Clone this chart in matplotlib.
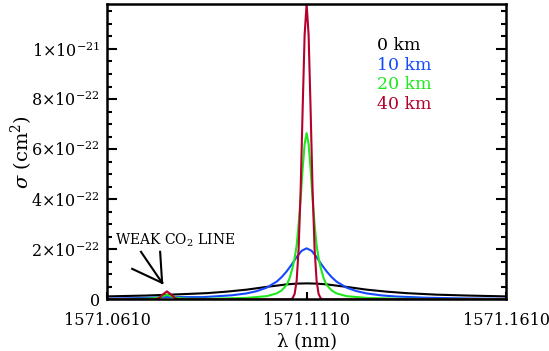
import matplotlib.pyplot as plt

plt.rcParams['font.family'] = 'DejaVu Serif'
plt.rcParams['mathtext.fontset'] = 'dejavuserif'

# cross sections, in units of 1e-22 cm^2
lam_0km = [1571.0610, 1571.0710, 1571.0785, 1571.0860, 1571.0910, 1571.0960, 1571.1010,
           1571.1060, 1571.1085, 1571.1110, 1571.1135, 1571.1160, 1571.1210, 1571.1260,
           1571.1310, 1571.1360, 1571.1435, 1571.1510, 1571.1610]
sig_0km = [0.12, 0.155, 0.20, 0.25, 0.31, 0.39, 0.50,
           0.60, 0.63, 0.64, 0.63, 0.60, 0.50, 0.39,
           0.31, 0.25, 0.19, 0.155, 0.12]

lam_10km = [1571.0610, 1571.0680, 1571.0720, 1571.0760, 1571.0800, 1571.0850, 1571.0885,
            1571.09225, 1571.0960, 1571.0985, 1571.1010, 1571.1035, 1571.10475, 1571.1060,
            1571.10725, 1571.1085, 1571.10975, 1571.1110, 1571.11225, 1571.1135, 1571.11475,
            1571.1160, 1571.11725, 1571.1185, 1571.1210, 1571.1235, 1571.1260, 1571.12975,
            1571.1335, 1571.1410, 1571.1510, 1571.1610]
sig_10km = [0.03, 0.05, 0.07, 0.10, 0.09, 0.09, 0.125,
            0.165, 0.24, 0.33, 0.47, 0.71, 0.89, 1.12,
            1.39, 1.69, 1.94, 2.04, 1.94, 1.69, 1.39,
            1.12, 0.89, 0.71, 0.47, 0.33, 0.24, 0.16,
            0.115, 0.066, 0.038, 0.024]

lam_20km = [1571.0610, 1571.0700, 1571.0725, 1571.0740, 1571.0750, 1571.0760, 1571.0770,
            1571.0780, 1571.0795, 1571.0820, 1571.0860, 1571.0960, 1571.1010, 1571.1035,
            1571.10475, 1571.1060, 1571.10675, 1571.1075, 1571.1080, 1571.1085, 1571.1090,
            1571.1095, 1571.1100, 1571.1105, 1571.1110, 1571.1115, 1571.1120, 1571.1125,
            1571.1130, 1571.1135, 1571.1140, 1571.1145, 1571.11525, 1571.1160, 1571.11725,
            1571.1185, 1571.1210, 1571.1260, 1571.1335, 1571.1435, 1571.1610]
sig_20km = [0.006, 0.022, 0.041, 0.08, 0.13, 0.18, 0.13,
            0.08, 0.042, 0.025, 0.022, 0.06, 0.13, 0.24,
            0.36, 0.58, 0.85, 1.28, 1.65, 2.15, 3.0,
            4.0, 5.2, 6.2, 6.64, 6.2, 5.2, 4.0,
            3.0, 2.15, 1.65, 1.28, 0.85, 0.58, 0.36,
            0.24, 0.13, 0.06, 0.027, 0.013, 0.006]

lam_40km = [1571.0610, 1571.0730, 1571.0740, 1571.0750, 1571.0760, 1571.0770, 1571.0780,
            1571.0790, 1571.1070, 1571.1075, 1571.1080, 1571.1085, 1571.1090, 1571.1095,
            1571.1100, 1571.1105, 1571.1110, 1571.1115, 1571.1120, 1571.1125, 1571.1130,
            1571.1135, 1571.1140, 1571.1145, 1571.1150, 1571.1610]
sig_40km = [0.0, 0.0, 0.05, 0.20, 0.32, 0.20, 0.05,
            0.0, 0.0, 0.05, 0.22, 0.74, 2.01, 4.35,
            7.57, 10.56, 11.8, 10.56, 7.57, 4.35, 2.01,
            0.74, 0.22, 0.05, 0.0, 0.0]

labels = ['0 km', '10 km', '20 km', '40 km']
colors = ['black', '#1448ff', '#1ee81e', '#b4002d']

xticks = [1571.0610, 1571.1110, 1571.1610]
xticklabels = ['1571.0610', '1571.1110', '1571.1610']
yticks = [0, 2, 4, 6, 8, 10]
yticklabels = ['0', r'$2{\times}10^{-22}$', r'$4{\times}10^{-22}$', r'$6{\times}10^{-22}$',
               r'$8{\times}10^{-22}$', r'$1{\times}10^{-21}$']

fig = plt.figure(figsize=(5.49, 3.51), dpi=100)
ax = fig.add_axes([0.195, 0.147, 0.727, 0.842])

series = [(lam_0km, sig_0km), (lam_10km, sig_10km), (lam_20km, sig_20km), (lam_40km, sig_40km)]
for (lam, sig), c in zip(series, colors):
    ax.plot(lam, sig, color=c, lw=1.5, solid_joinstyle='round')

ax.set_xlim(1571.061, 1571.161)
ax.set_ylim(0, 11.8)
ax.set_xticks(xticks)
ax.set_xticklabels(xticklabels)
ax.set_yticks(yticks)
ax.set_yticklabels(yticklabels)
ax.set_yticks([v * 0.5 for v in range(0, 24) if v % 4 != 0], minor=True)

ax.tick_params(axis='x', which='major', direction='in', length=5, width=1.5,
               labelsize=11.5, pad=9, top=False)
ax.tick_params(axis='y', which='both', direction='in', right=True, width=1.5, labelsize=11.5, pad=5)
ax.tick_params(axis='y', which='major', length=7)
ax.tick_params(axis='y', which='minor', length=3.5)
for s in ax.spines.values():
    s.set_linewidth(1.8)

ax.set_xlabel('λ (nm)', fontsize=13, labelpad=3)
ax.set_ylabel(r'$\sigma$ (cm$^2$)', fontsize=14)
ax.yaxis.set_label_coords(-0.18, 0.5)

# legend as coloured text
for i, (lab, c) in enumerate(zip(labels, colors)):
    ax.text(0.677, 0.859 - i * 0.0662, lab, color=c, fontsize=12.5,
            transform=ax.transAxes, va='center', ha='left')

# weak line annotation
ax.text(0.02, 0.201, r'WEAK CO$_2$ LINE', fontsize=10, transform=ax.transAxes,
        va='center', ha='left')
tip = (1571.0748, 0.66)
for x0, y0 in [(1571.0673, 1.22), (1571.0695, 1.90), (1571.0743, 1.90)]:
    ax.plot([x0, tip[0]], [y0, tip[1]], color='black', lw=1.5)

fig.savefig('out.png', dpi=100)
